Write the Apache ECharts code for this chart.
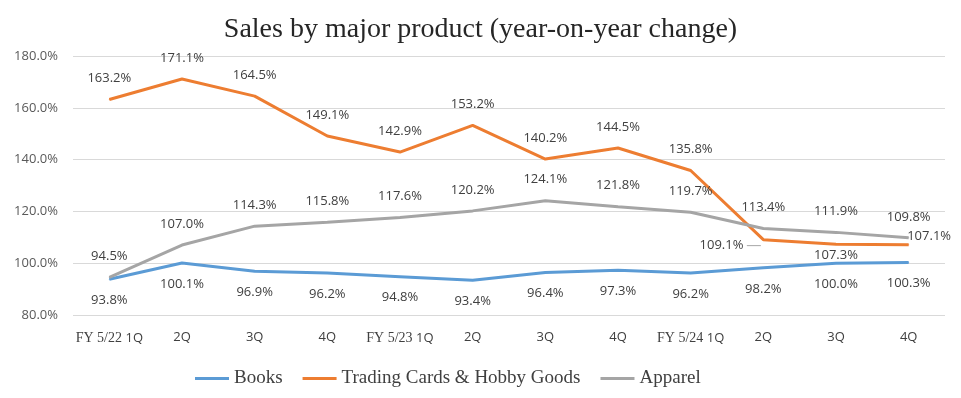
<!DOCTYPE html>
<html><head><meta charset="utf-8">
<script src="https://cdn.jsdelivr.net/npm/echarts@6/dist/echarts.min.js"></script>
<style>html,body{margin:0;padding:0;background:#fff}#c{width:961px;height:398px}</style>
</head><body><div id="c"></div>
<script>
const categories = ['FY 5/22 1Q','2Q','3Q','4Q','FY 5/23 1Q','2Q','3Q','4Q','FY 5/24 1Q','2Q','3Q','4Q'];
const books = [93.8, 100.1, 96.9, 96.2, 94.8, 93.4, 96.4, 97.3, 96.2, 98.2, 100.0, 100.3];
const trading = [163.2, 171.1, 164.5, 149.1, 142.9, 153.2, 140.2, 144.5, 135.8, 109.1, 107.3, 107.1];
const apparel = [94.5, 107.0, 114.3, 115.8, 117.6, 120.2, 124.1, 121.8, 119.7, 113.4, 111.9, 109.8];
const yTicks = [80, 100, 120, 140, 160, 180];

const sans = '"Open Sans", "DejaVu Sans", sans-serif';
const serif = '"Liberation Serif", "Times New Roman", serif';
const fmt = v => v.toFixed(1) + '%';

function mk(values, overrides) {
  return values.map((v, i) => {
    const o = { value: v };
    if (overrides && overrides[i]) Object.assign(o, overrides[i]);
    return o;
  });
}

const baseLabel = (pos) => ({
  show: true, position: pos, distance: 14,
  color: '#404040', fontFamily: sans, fontSize: 13,
  formatter: p => fmt(p.value)
});

const chart = echarts.init(document.getElementById('c'));
chart.setOption({
  animation: false,
  title: {
    text: 'Sales by major product (year-on-year change)',
    left: 'center', top: 11,
    textStyle: { fontFamily: serif, fontSize: 28, fontWeight: 'normal', color: '#262626' }
  },
  legend: {
    bottom: 5, left: 190,
    itemWidth: 34, itemHeight: 3, itemGap: 20,
    icon: 'rect',
    textStyle: { fontFamily: serif, fontSize: 19, color: '#404040' },
    data: ['Books', 'Trading Cards & Hobby Goods', 'Apparel']
  },
  grid: { left: 73, right: 16, top: 56, bottom: 83 },
  xAxis: {
    type: 'category', data: categories, boundaryGap: true,
    axisLine: { show: false }, axisTick: { show: false },
    axisLabel: {
      margin: 16, color: '#404040', fontFamily: sans, fontSize: 13, interval: 0,
      formatter: v => {
        if (v.startsWith('FY')) {
          const parts = v.split(' ');
          return '{s|' + parts[0] + ' ' + parts[1] + ' }{q|' + parts[2] + '}';
        }
        return '{q|' + v + '}';
      },
      rich: {
        s: { fontFamily: serif, fontSize: 14, color: '#404040' },
        q: { fontFamily: sans, fontSize: 13, color: '#404040' }
      }
    }
  },
  yAxis: {
    type: 'value', min: yTicks[0], max: yTicks[yTicks.length - 1], interval: 20,
    axisLine: { show: false }, axisTick: { show: false },
    axisLabel: { color: '#595959', fontFamily: sans, fontSize: 13, margin: 15, formatter: v => fmt(v) },
    splitLine: { lineStyle: { color: '#D9D9D9', width: 1 } }
  },
  series: [
    {
      name: 'Books', type: 'line', data: mk(books),
      symbol: 'circle', symbolSize: 1, showSymbol: true,
      lineStyle: { color: '#5B9BD5', width: 3 }, itemStyle: { color: '#5B9BD5' },
      label: baseLabel('bottom')
    },
    {
      name: 'Trading Cards & Hobby Goods', type: 'line',
      data: mk(trading, {
        9: { label: { position: 'left', distance: 2, offset: [0, 6],
                      formatter: p => '{t|' + fmt(p.value) + '} {l|}',
                      rich: { t: { color: '#404040', fontFamily: sans, fontSize: 13 },
                              l: { width: 14, height: 1, backgroundColor: '#A6A6A6' } } } },
        10: { label: { position: 'bottom', distance: 4 } },
        11: { label: { position: 'right', distance: -2, offset: [0, -9] } }
      }),
      symbol: 'circle', symbolSize: 1, showSymbol: true,
      lineStyle: { color: '#ED7D31', width: 3 }, itemStyle: { color: '#ED7D31' },
      label: baseLabel('top')
    },
    {
      name: 'Apparel', type: 'line', data: mk(apparel),
      symbol: 'circle', symbolSize: 1, showSymbol: true,
      lineStyle: { color: '#A5A5A5', width: 3 }, itemStyle: { color: '#A5A5A5' },
      label: baseLabel('top')
    }
  ]
});
</script></body></html>
